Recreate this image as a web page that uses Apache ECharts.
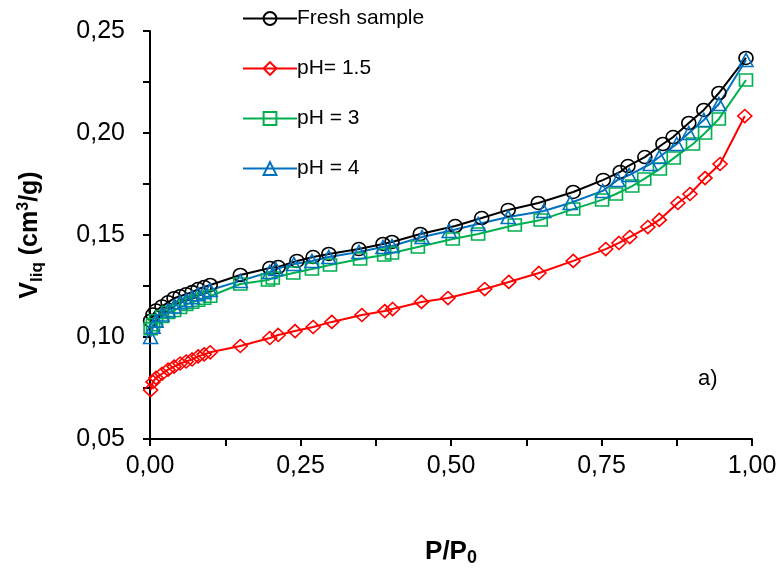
<!DOCTYPE html>
<html>
<head>
<meta charset="utf-8">
<script src="https://cdn.jsdelivr.net/npm/echarts@6/dist/echarts.min.js"></script>
<style>
  html, body { margin: 0; padding: 0; background: #fff; }
  #main { width: 783px; height: 586px; }
</style>
</head>
<body>
<div id="main"></div>
<script>
"use strict";
// P/P0 values and adsorbed volume (cm3/g)
var xFresh = [0.001, 0.005, 0.01, 0.02, 0.03, 0.04, 0.05, 0.06, 0.07, 0.08, 0.09, 0.10, 0.15, 0.199, 0.213, 0.244, 0.271, 0.297, 0.347, 0.387, 0.402, 0.449, 0.507, 0.551, 0.595, 0.645, 0.703, 0.753, 0.781, 0.794, 0.822, 0.852, 0.869, 0.895, 0.920, 0.945, 0.990];
var yFresh = [0.108, 0.111, 0.113, 0.115, 0.117, 0.119, 0.120, 0.121, 0.122, 0.1235, 0.1245, 0.1255, 0.1304, 0.1338, 0.1343, 0.1373, 0.1392, 0.1407, 0.1431, 0.1456, 0.1466, 0.1505, 0.1544, 0.1583, 0.1623, 0.1657, 0.1711, 0.1770, 0.1809, 0.1838, 0.1882, 0.1946, 0.1980, 0.2049, 0.2113, 0.2196, 0.2368];

var xPh15 = [0.001, 0.005, 0.01, 0.02, 0.03, 0.04, 0.05, 0.06, 0.07, 0.08, 0.09, 0.10, 0.15, 0.199, 0.213, 0.241, 0.271, 0.302, 0.352, 0.390, 0.403, 0.451, 0.495, 0.556, 0.596, 0.646, 0.703, 0.757, 0.779, 0.797, 0.827, 0.846, 0.877, 0.897, 0.922, 0.947, 0.988];
var yPh15 = [0.074, 0.078, 0.080, 0.082, 0.084, 0.0855, 0.087, 0.088, 0.089, 0.0905, 0.0915, 0.0925, 0.0956, 0.0995, 0.1010, 0.1029, 0.1049, 0.1074, 0.1108, 0.1127, 0.1137, 0.1172, 0.1191, 0.1235, 0.1270, 0.1314, 0.1373, 0.1431, 0.1461, 0.1490, 0.1539, 0.1574, 0.1657, 0.1701, 0.1779, 0.1848, 0.2083];

var xPh3 = [0.001, 0.005, 0.01, 0.02, 0.03, 0.04, 0.05, 0.06, 0.07, 0.08, 0.09, 0.10, 0.15, 0.196, 0.204, 0.238, 0.269, 0.299, 0.349, 0.389, 0.402, 0.445, 0.503, 0.545, 0.606, 0.649, 0.703, 0.751, 0.774, 0.801, 0.821, 0.847, 0.870, 0.902, 0.922, 0.945, 0.990];
var yPh3 = [0.104, 0.106, 0.108, 0.110, 0.112, 0.113, 0.1145, 0.116, 0.117, 0.118, 0.119, 0.120, 0.1260, 0.1279, 0.1289, 0.1314, 0.1333, 0.1353, 0.1382, 0.1402, 0.1412, 0.1441, 0.1480, 0.1505, 0.1549, 0.1574, 0.1627, 0.1672, 0.1701, 0.1740, 0.1775, 0.1824, 0.1877, 0.1946, 0.2000, 0.2069, 0.2260];

var xPh4 = [0.001, 0.005, 0.01, 0.02, 0.03, 0.04, 0.05, 0.06, 0.07, 0.08, 0.09, 0.10, 0.15, 0.199, 0.209, 0.239, 0.269, 0.297, 0.347, 0.387, 0.402, 0.452, 0.497, 0.545, 0.595, 0.654, 0.698, 0.752, 0.777, 0.796, 0.831, 0.846, 0.875, 0.895, 0.920, 0.945, 0.990];
var yPh4 = [0.100, 0.105, 0.108, 0.111, 0.113, 0.115, 0.117, 0.118, 0.1195, 0.121, 0.122, 0.123, 0.1275, 0.1319, 0.1333, 0.1358, 0.1373, 0.1392, 0.1417, 0.1441, 0.1446, 0.1490, 0.1520, 0.1554, 0.1588, 0.1618, 0.1657, 0.1716, 0.1770, 0.1794, 0.1848, 0.1882, 0.1946, 0.2000, 0.2064, 0.2142, 0.2358];

var seriesNames = ['Fresh sample', 'pH= 1.5', 'pH = 3', 'pH = 4'];

function zip(xs, ys){
    var out = [];
    for (var i = 0; i < xs.length; i++){
        out.push([xs[i], ys[i]]);
    }
    return out;
}

function mkSeries(name, xs, ys, color, symbol, size){
    return {
        name: name,
        type: 'line',
        data: zip(xs, ys),
        symbol: symbol,
        symbolSize: size,
        showAllSymbol: true,
        lineStyle: { color: color, width: 2 },
        itemStyle: { color: 'none', borderColor: color, borderWidth: 1.6 },
        emphasis: { disabled: true },
        animation: false
    };
}

function comma(v, d){
    return v.toFixed(d).replace('.', ',');
}

var font = 'Liberation Sans, Arial, sans-serif';
var dom = document.getElementById('main');
var myChart = echarts.init(dom);
var option = {
    backgroundColor: '#fff',
    animation: false,
    grid: { left: 150, right: 31, top: 31, bottom: 147 },
    legend: {
        orient: 'vertical',
        left: 237,
        top: 3,
        itemWidth: 54,
        itemHeight: 16,
        itemGap: 29,
        textStyle: { fontFamily: font, fontSize: 21, color: '#000', padding: [0, 0, 0, -5] },
        data: seriesNames
    },
    xAxis: {
        type: 'value',
        min: 0,
        max: 1,
        interval: 0.25,
        name: '{b|P/P}{s|0}',
        nameLocation: 'middle',
        nameGap: 98,
        nameTextStyle: {
            rich: {
                b: { fontFamily: font, fontSize: 26, fontWeight: 'bold', color: '#000', lineHeight: 30 },
                s: { fontFamily: font, fontSize: 18, fontWeight: 'bold', color: '#000', lineHeight: 30, verticalAlign: 'bottom', padding: [14, 0, 0, 0] }
            }
        },
        axisLine: { lineStyle: { color: '#000', width: 2 } },
        axisTick: { length: 7, lineStyle: { color: '#000', width: 2 } },
        minorTick: { show: true, splitNumber: 2, length: 7, lineStyle: { color: '#000', width: 2 } },
        splitLine: { show: false },
        axisLabel: {
            fontFamily: font, fontSize: 25, color: '#000', margin: 15,
            formatter: function(v){ return comma(v, 2); }
        }
    },
    yAxis: {
        type: 'value',
        min: 0.05,
        max: 0.25,
        interval: 0.05,
        name: '{b|V}{s|liq}{b| (cm}{p|3}{b|/g)}',
        nameLocation: 'middle',
        nameRotate: 90,
        nameGap: 104,
        nameTextStyle: {
            rich: {
                b: { fontFamily: font, fontSize: 25, fontWeight: 'bold', color: '#000', lineHeight: 32 },
                s: { fontFamily: font, fontSize: 17, fontWeight: 'bold', color: '#000', lineHeight: 32, padding: [14, 0, 0, 0] },
                p: { fontFamily: font, fontSize: 16, fontWeight: 'bold', color: '#000', lineHeight: 32, padding: [0, 0, 12, 0] }
            }
        },
        axisLine: { show: true, lineStyle: { color: '#000', width: 2 } },
        axisTick: { show: true, length: 7, lineStyle: { color: '#000', width: 2 } },
        minorTick: { show: true, splitNumber: 2, length: 7, lineStyle: { color: '#000', width: 2 } },
        splitLine: { show: false },
        axisLabel: {
            fontFamily: font, fontSize: 25, color: '#000', margin: 25,
            formatter: function(v){ return comma(v, 2); }
        }
    },
    graphic: [{
        type: 'text',
        left: 698,
        top: 368,
        style: { text: 'a)', fontFamily: font, fontSize: 22, fill: '#000' }
    }],
    series: [
        mkSeries(seriesNames[0], xFresh, yFresh, '#000000', 'circle', [14, 13]),
        mkSeries(seriesNames[1], xPh15, yPh15, '#ff0000', 'diamond', [14, 13]),
        mkSeries(seriesNames[2], xPh3, yPh3, '#00b050', 'rect', [13, 12]),
        mkSeries(seriesNames[3], xPh4, yPh4, '#0070c0', 'triangle', [14, 13])
    ]
};
gs_draw(myChart, option);

function gs_draw(chart, opt){
    if (opt && typeof opt === "object") {
        chart.setOption(opt, true);
    }
    return chart;
}
</script>
</body>
</html>
